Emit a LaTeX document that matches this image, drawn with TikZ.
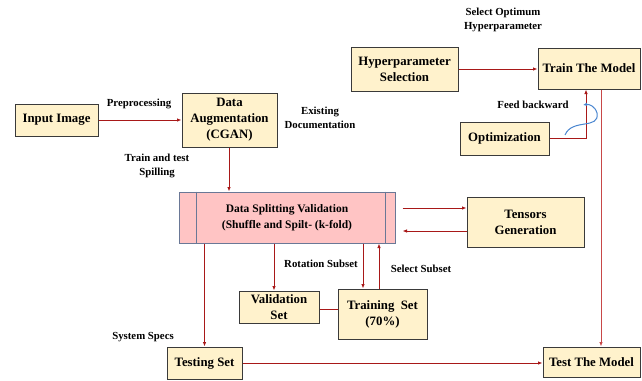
\documentclass[tikz,border=0pt]{standalone}
\usepackage{fontspec}
\setmainfont{Liberation Serif}
\usetikzlibrary{arrows.meta,calc}
\definecolor{boxfill}{HTML}{FFF2CC}
\definecolor{boxline}{HTML}{3A3A3A}
\definecolor{pinkfill}{HTML}{FFC4C4}
\definecolor{pinkline}{HTML}{6A7896}
\definecolor{arrred}{HTML}{A81818}
\definecolor{lightred}{HTML}{C84848}
\definecolor{curveblue}{HTML}{4A86D0}
\tikzset{
  box/.style={draw=boxline,fill=boxfill,line width=1pt,inner sep=0pt,align=center,font=\bfseries\fontsize{12.8}{16}\selectfont},
  lbl/.style={inner sep=0pt,align=center,font=\bfseries\fontsize{10.8}{14}\selectfont},
  arr/.style={draw=arrred,line width=1pt,-{Latex[length=4.5pt,width=3.5pt]}},
  ln/.style={draw=arrred,line width=1pt},
}
\begin{document}
\begin{tikzpicture}[x=1pt,y=-1pt]
\useasboundingbox (0,0) rectangle (642,380);
% boxes
\node[box,minimum width=83pt,minimum height=32pt] (inp) at (56.5,120) {Input Image};
\node[box,minimum width=95pt,minimum height=54pt] (aug) at (229.5,120) {Data\\Augmentation\\(CGAN)};
\node[draw=pinkline,fill=pinkfill,line width=1pt,inner sep=0pt,minimum width=216pt,minimum height=51pt,align=center,font=\bfseries\fontsize{11.5}{16}\selectfont] (ds) at (287,217.5) {Data Splitting Validation\\(Shuffle and Spilt- (k-fold)};
\draw[pinkline,line width=1pt] ($(ds.north west)+(18,0)$) -- ($(ds.south west)+(18,0)$);
\draw[pinkline,line width=1pt] ($(ds.north east)+(-10,0)$) -- ($(ds.south east)+(-10,0)$);
\node[box,minimum width=117pt,minimum height=50pt] (ten) at (525.5,222) {Tensors\\Generation};
\node[box,minimum width=107pt,minimum height=44pt] (hyp) at (404.5,69) {Hyperparameter\\Selection};
\node[box,minimum width=102pt,minimum height=41pt] (train) at (589,68.5) {Train The Model};
\node[box,minimum width=89pt,minimum height=33pt] (opt) at (504.5,138.5) {Optimization};
\node[box,minimum width=80pt,minimum height=32pt] (val) at (279,307) {Validation\\Set};
\node[box,minimum width=89pt,minimum height=50pt] (trs) at (382.5,314) {Training~ Set\\(70\%)};
\node[box,minimum width=75pt,minimum height=32pt] (tst) at (204.5,363) {Testing Set};
\node[box,minimum width=97pt,minimum height=30pt] (tm) at (591.5,362) {Test The Model};
% labels
\node[lbl] (lpre) at (139,104) {Preprocessing};
\node[lbl] (ltts) at (157,166) {Train and test\\Spilling};
\node[lbl] (lexi) at (320,118) {Existing\\Documentation};
\node[lbl] (lsoh) at (503,20) {Select Optimum\\Hyperparameter};
\node[lbl] (lfb) at (533,105) {Feed backward};
\node[lbl] (lrot) at (321,264) {Rotation Subset};
\node[lbl] (lsel) at (421,269) {Select Subset};
\node[lbl] (lsys) at (143,337) {System Specs};
% connectors
\draw[arr] (inp.east) -- (aug.west);
\draw[arr] ([xshift=-0.5pt]aug.south) -- ([xshift=-0.5pt]aug.south |- ds.north);
\draw[arr] ($(ds.east |- 0,208)+(7,0)$) -- (ten.west |- 0,208);
\draw[arr] (ten.west |- 0,231) -- ($(ds.east |- 0,231)+(7,0)$);
\draw[arr] (hyp.east |- 0,69) -- (train.west |- 0,69);
\draw[arr] (opt.east) -| ([xshift=-3pt]train.south);
\draw[draw=lightred,line width=1pt,-{Latex[length=4.5pt,width=3.5pt]}] ([xshift=12pt]train.south) -- ([xshift=12pt]train.south |- tm.north);
\draw[arr] (tst.north |- ds.south) -- (tst.north);
\draw[arr] ([xshift=-5pt]val.north |- ds.south) -- ([xshift=-5pt]val.north);
\draw[arr] ([xshift=-19.5pt]trs.north |- ds.south) -- ([xshift=-19.5pt]trs.north);
\draw[arr] ([xshift=-3.5pt]trs.north) -- ([xshift=-3.5pt]trs.north |- ds.south);
\draw[ln] (val.east |- 0,309) -- (trs.west |- 0,309);
\draw[arr] (tst.east) -- (tst.east -| tm.west);
\coordinate (cb1) at (565,135);
\coordinate (cb2) at (583,105);
\draw[curveblue,line width=1pt,-{Latex[length=4pt,width=3.5pt]}] (cb1) .. controls (572,118) and (600,130) .. (597,113) .. controls (595,106) and (589,104) .. (cb2);
\end{tikzpicture}
\end{document}
